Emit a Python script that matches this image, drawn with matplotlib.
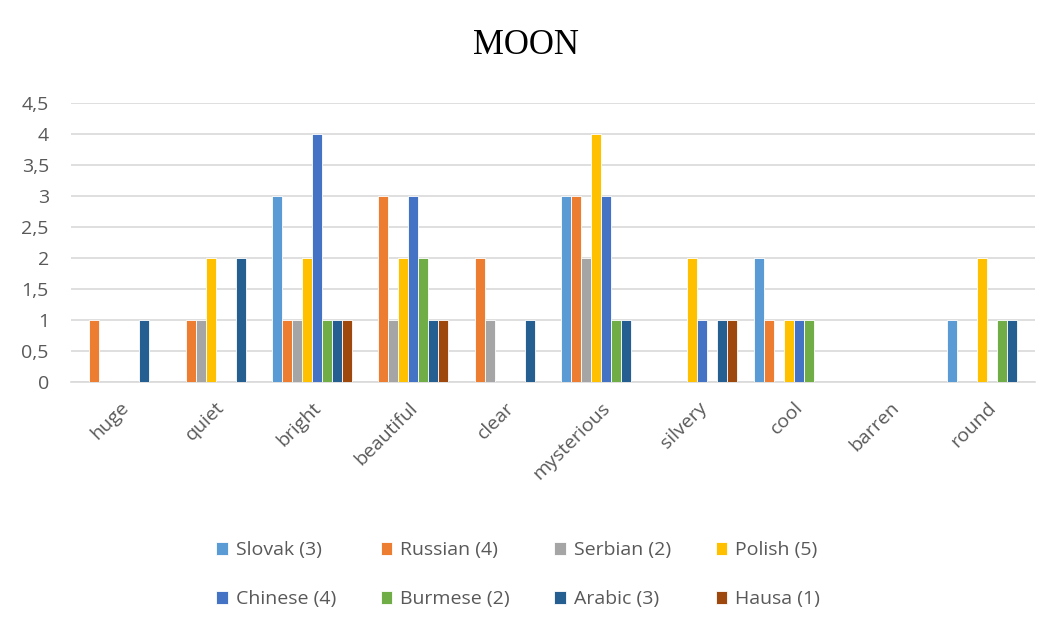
import numpy as np
import matplotlib
matplotlib.use("Agg")
from matplotlib import pyplot as plt
from matplotlib.ticker import FuncFormatter

plt.rcParams['font.family'] = ['Open Sans', 'DejaVu Sans']

categories = ["huge", "quiet", "bright", "beautiful", "clear",
              "mysterious", "silvery", "cool", "barren", "round"]

series_names = ["Slovak (3)", "Russian (4)", "Serbian (2)", "Polish (5)",
                "Chinese (4)", "Burmese (2)", "Arabic (3)", "Hausa (1)"]

slovak = [0, 0, 3, 0, 0, 3, 0, 2, 0, 1]
russian = [1, 1, 1, 3, 2, 3, 0, 1, 0, 0]
serbian = [0, 1, 1, 1, 1, 2, 0, 0, 0, 0]
polish = [0, 2, 2, 2, 0, 4, 2, 1, 0, 2]
chinese = [0, 0, 4, 3, 0, 3, 1, 1, 0, 0]
burmese = [0, 0, 1, 2, 0, 1, 0, 1, 0, 1]
arabic = [1, 2, 1, 1, 1, 1, 1, 0, 0, 1]
hausa = [0, 0, 1, 1, 0, 0, 1, 0, 0, 0]

colors = ["#5B9BD5", "#ED7D31", "#A5A5A5", "#FFC000",
          "#4472C4", "#70AD47", "#255E91", "#9E480E"]

all_series = [slovak, russian, serbian, polish, chinese, burmese, arabic, hausa]

fig = plt.figure(figsize=(10.51, 6.18), dpi=100)
ax = fig.add_axes([0.0676, 0.382, 0.917, 0.451])

x = np.arange(len(categories))
n = len(all_series)
group_w = 0.83
bar_w = group_w / n
handles = []
for i, (vals, name, col) in enumerate(zip(all_series, series_names, colors)):
    offs = -group_w / 2 + bar_w * (i + 0.5)
    b = ax.bar(x + offs, vals, width=bar_w, color=col, edgecolor="white",
               linewidth=0.6, label=name, zorder=3)
    handles.append(b)

ax.set_xlim(-0.5, len(categories) - 0.5)
ax.set_ylim(0, 4.5)
ax.set_yticks(np.arange(0, 4.51, 0.5))
ax.yaxis.set_major_formatter(FuncFormatter(
    lambda v, p: ("%g" % v).replace(".", ",")))
ax.grid(axis="y", color="#d9d9d9", linewidth=1.2, zorder=0)
for s in ["top", "right", "left"]:
    ax.spines[s].set_visible(False)
ax.spines["bottom"].set_color("#d9d9d9")
ax.spines["bottom"].set_linewidth(1.2)
ax.tick_params(axis="both", length=0, colors="#595959", labelsize=14)
ax.tick_params(axis="y", pad=16)
ax.set_xticks(x)
ax.set_xticklabels(categories, rotation=45, ha="right", rotation_mode="anchor")
ax.tick_params(axis="x", pad=12)

fig.text(0.5, 0.926, "MOON", ha="center", va="center",
         fontsize=25, family="Liberation Serif", color="#000000")

# legend fills column-wise, so reorder to get rows like the original
order = [0, 4, 1, 5, 2, 6, 3, 7]
fig.legend([handles[k] for k in order], [series_names[k] for k in order],
           loc="center", bbox_to_anchor=(0.493, 0.070), ncol=4, frameon=False,
           fontsize=14, labelcolor="#595959", handlelength=0.6,
           handleheight=0.6, handletextpad=0.4, columnspacing=2.3,
           labelspacing=1.6)

fig.savefig("out.png", dpi=100)
